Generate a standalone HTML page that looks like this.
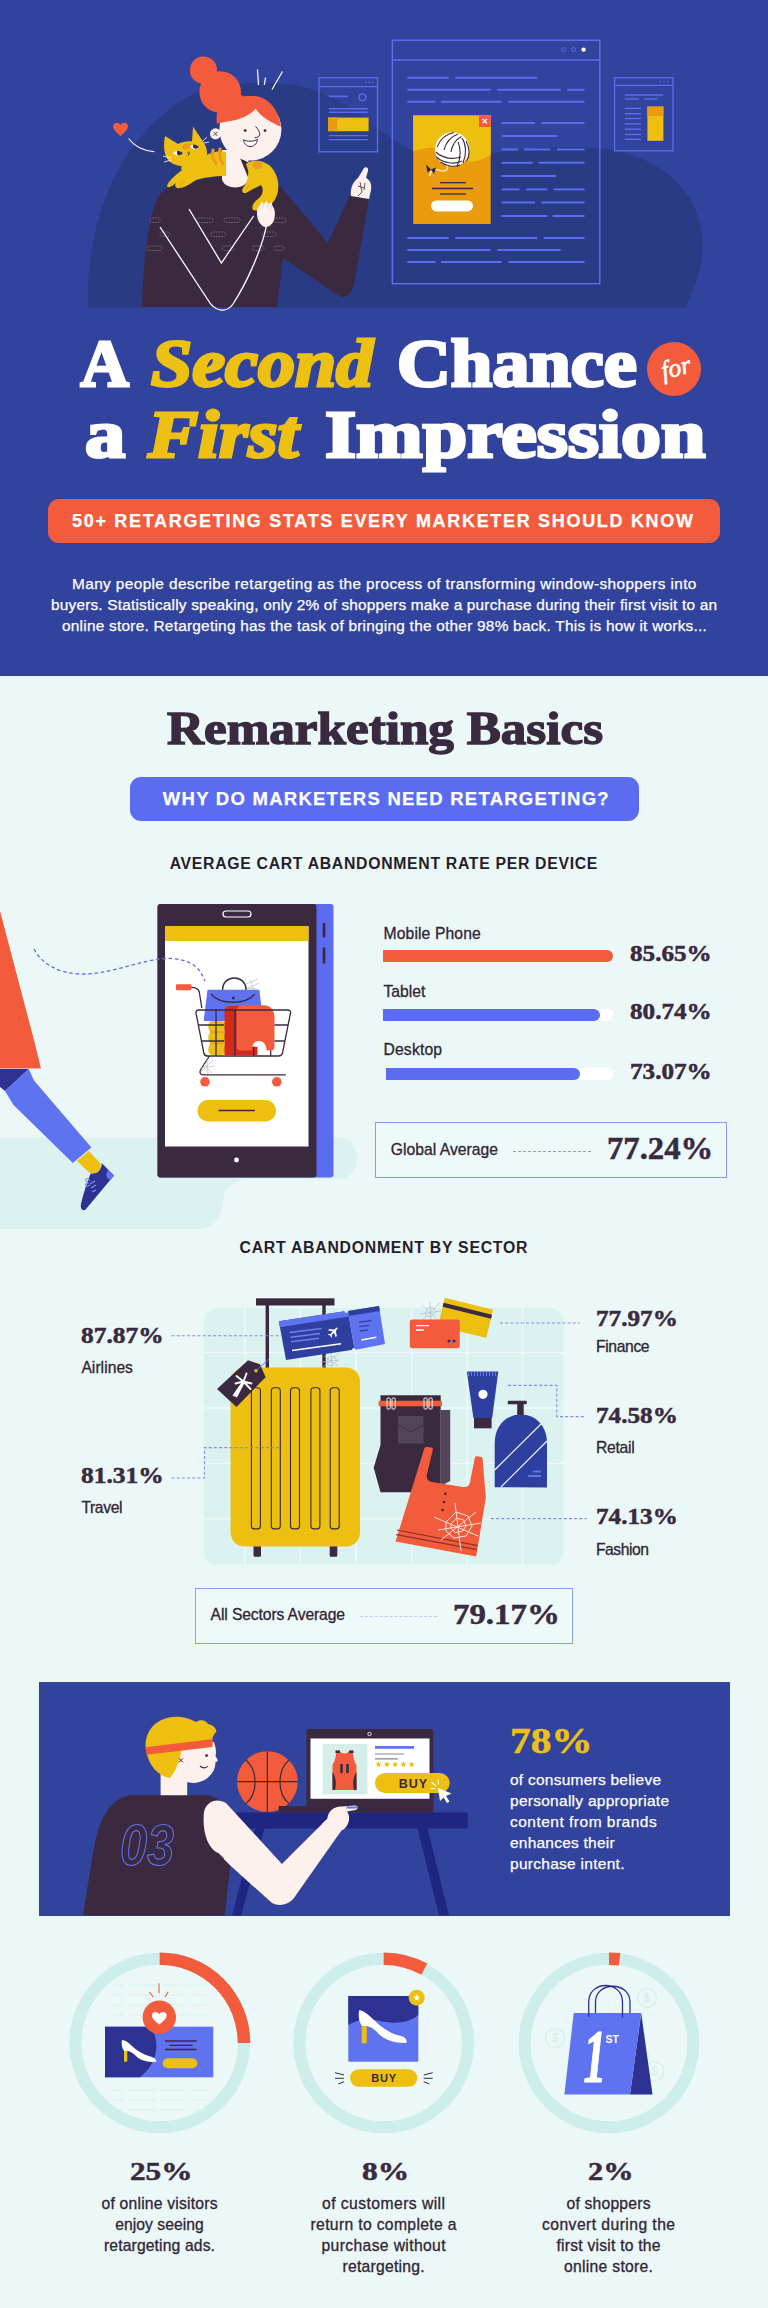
<!DOCTYPE html>
<html lang="en">
<head>
<meta charset="utf-8">
<title>A Second Chance for a First Impression</title>
<style>
*{box-sizing:border-box;margin:0;padding:0}
html,body{width:768px;height:2308px;overflow:hidden}
body{background:#ecf8f8;font-family:"Liberation Sans",sans-serif;color:#3a2a40;position:relative}
.abs{position:absolute}
.serif{font-family:"Liberation Serif",serif;font-weight:bold}
.t{position:absolute;white-space:nowrap;line-height:1;color:#3a2a40}
#hdr{left:0;top:0;width:768px;height:676px;background:#32439d}
.ttl{color:#fff;font-size:67px;transform-origin:0 50%;-webkit-text-stroke:3px currentColor;paint-order:stroke fill}
.ttl i{color:#ecc113}
.pill{position:absolute;border-radius:11px}
svg{position:absolute;overflow:visible}
svg text{font-family:"Liberation Sans",sans-serif}
</style>
</head>
<body>
<div id="hdr" class="abs"></div>
<svg width="768" height="340" viewBox="0 0 768 340" style="left:0;top:0" fill="none">
<!-- blob -->
<path d="M88 307.700C86 262 96 215 114 178C132 142 158 116 182 100C208 85 236 83 268 83C285 83 300 85 312 89.500C335 97 352 108 372 124C388 137 400 144 414 152C440 162 470 156 500 152C540 147 580 146 606 149C660 158 692 185 701 228C707 262 694 290 685 307.700Z" fill="#283b84"/>
<!-- small window left -->
<rect x="319" y="77.8" width="58.5" height="74" stroke="#5b6cf0" stroke-width="1.3" fill="#32439d" fill-opacity=".35"/>
<path d="M319 86.7H377.5" stroke="#5b6cf0" stroke-width="1.3"/>
<g fill="#5b6cf0"><circle cx="366" cy="82.3" r=".9"/><circle cx="369.5" cy="82.3" r=".9"/><circle cx="373" cy="82.3" r=".9"/></g>
<path d="M328.8 96.4H347.8" stroke="#5b6cf0" stroke-width="1.6"/>
<circle cx="362.4" cy="97.3" r="3.4" stroke="#5b6cf0" stroke-width="1.3"/>
<path d="M328.8 108.8H367.7" stroke="#5b6cf0" stroke-width="1.4"/><path d="M328.8 112.3H367.7" stroke="#5b6cf0" stroke-width="1.4"/>
<rect x="328" y="117.600" width="40.600" height="13.600" fill="#ecbf10"/><path d="M328 117.600H340C336 121 337 127 338 131.200H328Z" fill="#eb9c0c"/>
<path d="M328.8 135.6H367.7" stroke="#5b6cf0" stroke-width="1.4"/><path d="M328.8 139.6H367.7" stroke="#5b6cf0" stroke-width="1.4"/>
<!-- small window right -->
<rect x="614.6" y="77.8" width="58.4" height="73" stroke="#5b6cf0" stroke-width="1.3"/>
<path d="M614.6 85.3H673" stroke="#5b6cf0" stroke-width="1.3"/>
<g fill="#5b6cf0"><circle cx="660" cy="81.6" r=".8"/><circle cx="664" cy="81.6" r=".8"/><circle cx="668" cy="81.6" r=".8"/></g>
<path d="M624.8 95.0H663.3" stroke="#5b6cf0" stroke-width="1.4"/><path d="M624.8 99.0H639.0" stroke="#5b6cf0" stroke-width="1.4"/><path d="M644.3 99.0H657.6" stroke="#5b6cf0" stroke-width="1.4"/>
<path d="M624.8 108.4H641.0" stroke="#5b6cf0" stroke-width="1.4"/><path d="M624.8 113.7H641.0" stroke="#5b6cf0" stroke-width="1.4"/><path d="M624.8 118.5H641.0" stroke="#5b6cf0" stroke-width="1.4"/><path d="M624.8 123.8H641.0" stroke="#5b6cf0" stroke-width="1.4"/><path d="M624.8 129.2H641.0" stroke="#5b6cf0" stroke-width="1.4"/><path d="M624.8 134.5H641.0" stroke="#5b6cf0" stroke-width="1.4"/><path d="M624.8 139.3H641.0" stroke="#5b6cf0" stroke-width="1.4"/>
<rect x="647.4" y="106.6" width="16" height="34.2" fill="#ecbf10"/><path d="M647.4 106.6H663.4V115C658 118 652 114 647.4 117Z" fill="#eb9c0c"/>
<!-- main window -->
<rect x="392.400" y="40.300" width="207.400" height="243.400" stroke="#5b6cf0" stroke-width="1.500"/>
<path d="M392.4 60H600" stroke="#5b6cf0" stroke-width="1.5"/>
<circle cx="563.7" cy="49.6" r="2" stroke="#5b6cf0" stroke-width="1"/><circle cx="573.5" cy="49.6" r="2" stroke="#5b6cf0" stroke-width="1"/><circle cx="583.6" cy="49.6" r="2.2" fill="#fff"/>
<path d="M407.4 77.8H448.6" stroke="#5b6cf0" stroke-width="2"/>
<path d="M455.3 77.8H537.1" stroke="#5b6cf0" stroke-width="2"/>
<path d="M407.4 89.8H490.7" stroke="#5b6cf0" stroke-width="2"/>
<path d="M497.3 89.8H560.6" stroke="#5b6cf0" stroke-width="2"/>
<path d="M567.3 89.8H584.5" stroke="#5b6cf0" stroke-width="2"/>
<path d="M407.4 101.7H435.3" stroke="#5b6cf0" stroke-width="2"/>
<path d="M441.1 101.7H501.7" stroke="#5b6cf0" stroke-width="2"/>
<path d="M508.4 101.7H584.5" stroke="#5b6cf0" stroke-width="2"/>
<path d="M501.7 123.0H534.9" stroke="#5b6cf0" stroke-width="2"/>
<path d="M541.6 123.0H584.5" stroke="#5b6cf0" stroke-width="2"/>
<path d="M501.7 136.0H557.1" stroke="#5b6cf0" stroke-width="2"/>
<path d="M501.7 149.5H518.1" stroke="#5b6cf0" stroke-width="2"/>
<path d="M523.9 149.5H550.4" stroke="#5b6cf0" stroke-width="2"/>
<path d="M557.1 149.5H584.5" stroke="#5b6cf0" stroke-width="2"/>
<path d="M501.7 162.8H532.7" stroke="#5b6cf0" stroke-width="2"/>
<path d="M538.5 162.8H584.5" stroke="#5b6cf0" stroke-width="2"/>
<path d="M501.7 176.0H556.2" stroke="#5b6cf0" stroke-width="2"/>
<path d="M501.7 189.4H519.4" stroke="#5b6cf0" stroke-width="2"/>
<path d="M526.1 189.4H547.3" stroke="#5b6cf0" stroke-width="2"/>
<path d="M553.5 189.4H584.5" stroke="#5b6cf0" stroke-width="2"/>
<path d="M501.7 202.6H534.9" stroke="#5b6cf0" stroke-width="2"/>
<path d="M541.6 202.6H584.5" stroke="#5b6cf0" stroke-width="2"/>
<path d="M501.7 216.0H547.3" stroke="#5b6cf0" stroke-width="2"/>
<path d="M552.6 216.0H584.5" stroke="#5b6cf0" stroke-width="2"/>
<path d="M407.4 238.0H448.6" stroke="#5b6cf0" stroke-width="2"/>
<path d="M455.3 238.0H537.1" stroke="#5b6cf0" stroke-width="2"/>
<path d="M543.8 238.0H584.5" stroke="#5b6cf0" stroke-width="2"/>
<path d="M407.4 250.0H490.7" stroke="#5b6cf0" stroke-width="2"/>
<path d="M497.3 250.0H560.6" stroke="#5b6cf0" stroke-width="2"/>
<path d="M407.4 262.0H435.3" stroke="#5b6cf0" stroke-width="2"/>
<path d="M441.1 262.0H501.7" stroke="#5b6cf0" stroke-width="2"/>
<path d="M508.4 262.0H584.5" stroke="#5b6cf0" stroke-width="2"/>
<!-- popup -->
<rect x="413.2" y="115.4" width="77.5" height="108.6" fill="#eb9c0c"/>
<path d="M413.200 115.400H490.700V154.400C484 159 476 162 468 161.500C456 160.500 448 150 436 148C428 147 420 149 413.200 151.600Z" fill="#ecbf10"/>
<rect x="479" y="115.400" width="11.700" height="11.600" fill="#f25c3d"/>
<path d="M482.600 119L487 123.400M487 119L482.600 123.400" stroke="#fff" stroke-width="1.300"/>
<path d="M447 166C449 170 444 172 440 170.500C435 168.500 431 170 429.500 176" stroke="#fbe6b0" stroke-width="1.400"/>
<path d="M426 164.500L431 169.500L427.500 172.500ZM431 169.500L436 167.500L434 174Z" fill="#2a2350"/>
<circle cx="452.300" cy="149.400" r="17.200" fill="#fff"/>
<g stroke="#3b2a3f" stroke-width="1.100"><path d="M454 132.500C446 134 440 140 437 147"/><path d="M458 134C450 137 446 142 444 150"/><path d="M461.500 136.500C455 140 452 145 451 152"/><path d="M436 152C442 158 452 160 461 157"/><path d="M436.500 157C443 163 454 165 462 161"/><path d="M440.500 162C446 166 454 167.500 460 165"/><path d="M462 138C466 144 467 154 463 163"/><path d="M466 141C470 148 470 156 466.500 161"/><path d="M458 142C461 148 461 158 457 166.500"/></g>
<path d="M440.0 182.7H466.0" stroke="#3b2a3f" stroke-width="1.3"/><path d="M432.0 188.5H473.0" stroke="#3b2a3f" stroke-width="1.3"/><path d="M440.0 194.0H466.0" stroke="#3b2a3f" stroke-width="1.3"/>
<rect x="431" y="200.4" width="42" height="11" rx="5.5" fill="#fff"/>
<!-- WOMAN -->
<g id="woman">
<!-- body + right arm -->
<path d="M142 307C143 270 146 232 155 204C159 193 164 189 172 186L228 174L262 178C270 180 276 183 281 187L328 243L350 195L369 199L354 284C352 294 345 299 339 296L283 258L277 307Z" fill="#3b2a3f"/>
<!-- sweater dashes -->
<g stroke="#77677d" stroke-width="1" stroke-dasharray="1.500 1.100" fill="none">
<rect x="150" y="218" width="10" height="4.5" rx="2.2"/><rect x="197" y="218" width="16" height="4.5" rx="2.2"/><rect x="224" y="218" width="16" height="4.5" rx="2.2"/><rect x="274" y="218" width="12" height="4.5" rx="2.2"/>
<rect x="160" y="232" width="10" height="4.5" rx="2.2"/><rect x="211" y="232" width="15" height="4.5" rx="2.2"/><rect x="262" y="232" width="14" height="4.5" rx="2.2"/>
<rect x="147" y="246" width="15" height="4.5" rx="2.2"/><rect x="222" y="246" width="12" height="4.5" rx="2.2"/><rect x="252" y="246" width="12" height="4.5" rx="2.2"/><rect x="274" y="246" width="10" height="4.5" rx="2.2"/>
</g>
<!-- white V lines -->
<path d="M189 209L221.4 263L253.6 216" stroke="#fff" stroke-width="1.3"/>
<path d="M160 227L208 300C214 311 226 314 233 304C246 284 262 250 267 223" stroke="#fff" stroke-width="1.3"/>
<!-- neck -->
<path d="M222 150V178C222 190 248.500 192 248.500 176V150Z" fill="#fdf1ee"/>
<path d="M240 158L262 170L250 182Z" fill="#3b2a3f"/>
<!-- cat rear + tail -->
<path d="M246 164C252 159 262 160 269 165C277 172 280.500 184 277 195C273 206 263 212 253 210C251 206 254 202 258 199C263 195 264 189 261 185C257 187 251 190 247 192.500C243 194.500 241 191 243 188C247 183 249 176 248 170Z" fill="#ecbf10"/>
<ellipse cx="257.500" cy="165" rx="5" ry="4.200" fill="#ee9a1e"/>
<!-- cat body -->
<path d="M167 186C168 182 174 176 182 170C178 166 190 158 204 156C212 152 222 150 226 152V176C214 176 202 178 196 180C190 184 184 188 180 188C176 189 174 186 176 183C172 186 168 189 167 186Z" fill="#ecbf10"/>
<path d="M213 150C212 155 213 160 216 163M220 149C219 154 220 160 223 164" stroke="#ee9a1e" stroke-width="3.200" stroke-linecap="round"/>
<!-- cat head -->
<path d="M165 136L178 144C182 142 188 141 192 141.500L193 126.500L204 143C208 149 208 158 204 162C196 168 178 168 170 162C164 157 163 146 165 136Z" fill="#ecbf10"/>
<path d="M182 146C184 143 190 142 192 145C190 148 186 150 184 150Z" fill="#ee9a1e"/>
<path d="M173 153C176 150 181 150.500 183 153C180 156 176 156.500 173 153Z" fill="#fff"/><path d="M177 151C180 150.500 182 152 183 153C181 155.500 178 156 177 154Z" fill="#3b2a3f"/>
<path d="M190 146C193 144 197 144.500 199 147C196 150 192 150 190 146Z" fill="#fff"/><path d="M193 144.500C196 144.500 198 145.500 199 147C197 149 194 149.500 193 147Z" fill="#3b2a3f"/>
<path d="M187 152L189.500 154L189 151.500M188.500 154L188 156" stroke="#3b2a3f" stroke-width=".7"/>
<path d="M203 141L207 137M204 143L209 142M171 158L163 156M171 160L164 162" stroke="#fff" stroke-width=".8"/>
<path d="M170 186L173 181M179 188L183 182M246 190L249 185" stroke="#d9a40c" stroke-width=".9"/>
<!-- hand on shoulder -->
<path d="M257 214C256.500 210 258 207 260 205L261.500 201.500L264 204.500L266.500 200.500L268.500 204.500L271.500 202L272.500 206C275 209 275.500 214 274 220C272 226 266 229 262 225.500C258.500 222.500 257 218 257 214Z" fill="#fdf1ee"/>
<path d="M264 203L263 208M268 203L267.500 209M271.500 205L271 210" stroke="#e8d3cf" stroke-width=".7"/>
<!-- face -->
<circle cx="250.400" cy="129.600" r="31" fill="#fdf1ee"/>
<circle cx="215.500" cy="133.800" r="5.500" fill="#fdf1ee"/>
<!-- hair -->
<circle cx="203.500" cy="70.200" r="13.600" fill="#f25c3d"/>
<circle cx="220.200" cy="92" r="20.800" fill="#f25c3d"/>
<path d="M217 124C215 112 220 104 228 100C236 96 246 96 254 96C268 97 278 108 281 126.500C272 123 262 118 255.600 108.700C250 116 238 120 228 121.500C224 122 220 123 217 124Z" fill="#f25c3d"/>
<path d="M203 90L236 110L243 96L225 84Z" fill="#f25c3d"/>
<!-- face details -->
<circle cx="245.200" cy="130.600" r="1.400" fill="#3b2a3f"/><circle cx="265" cy="130.600" r="1.400" fill="#3b2a3f"/>
<path d="M255.600 126.500C258 129 260 132 259.800 134.800C259 137 256.500 137.800 254.600 137.500" stroke="#3b2a3f" stroke-width="1"/>
<path d="M243.500 139.800C247 141.800 254 141.800 257.500 139.300C257 144.500 253 146.800 250 146.500C247 146.300 244 144 243.500 139.800Z" fill="#fff" stroke="#3b2a3f" stroke-width="1"/>
<path d="M213.500 131.800L217.500 135.800M217.500 131.800L213.500 135.800" stroke="#3b2a3f" stroke-width=".9"/>
<!-- pointing hand -->
<path d="M351 196C350 188 353 182 358 178L364 168C366 166 369 168 368 171L366 178C370 180 372 184 371 190L369 199Z" fill="#fdf1ee"/>
<path d="M358 186L364 188M360 182L362 192L358 196M365 183L364 190" stroke="#3b2a3f" stroke-width=".8"/>
<!-- accent lines -->
<path d="M257.500 69.500L258.500 85M265.500 77.500L264.300 85M282.500 71.500L272 89.500" stroke="#fff" stroke-width="1.200"/>
<path d="M128.7 138.5C134 146 144 151 154.5 151.7" stroke="#fff" stroke-width="1.1"/>
<path d="M120.500 136C115.500 132 112.500 128.500 113.200 125.500C114 122.300 118.200 121.800 120.500 125C122.800 121.800 127 122.300 127.800 125.500C128.500 128.500 125.500 132 120.500 136Z" fill="#f25c3d"/>
</g>
</svg>

<div class="t serif ttl" style="left:80.5px;top:329.5px">A</div>
<div class="t serif ttl" style="left:151px;top:329.5px;transform:scaleX(1.105)"><i>Second</i></div>
<div class="t serif ttl" style="left:397px;top:329.5px;transform:scaleX(1.111)">Chance</div>
<div class="t serif ttl" style="left:85px;top:401px;transform:scaleX(1.2)">a</div>
<div class="t serif ttl" style="left:148px;top:401px;transform:scaleX(1.121)"><i>First</i></div>
<div class="t serif ttl" style="left:324.5px;top:401px;transform:scaleX(1.193)">Impression</div>
<div class="abs" style="left:647px;top:342px;width:54px;height:54px;border-radius:50%;background:#f25c3d"></div>
<div class="t" id="fort" style="left:660.5px;top:354.5px;color:#fff;font-family:'Liberation Serif',serif;font-style:italic;font-size:25.5px;-webkit-text-stroke:.6px #fff;transform:rotate(-14deg)">for</div>
<div class="pill" style="left:48px;top:499px;width:672px;height:44px;background:#f25c3d"></div>

<div class="pill" style="left:129.5px;top:777.3px;width:509.500px;height:44.200px;background:#5b6cf0"></div>
<div class="abs" style="left:383px;top:950px;width:230px;height:12px;border-radius:0 6px 6px 0;background:#f25c3d"></div>
<div class="abs" style="left:383px;top:1008.5px;width:230px;height:12px;border-radius:0 6px 6px 0;background:#fff"></div>
<div class="abs" style="left:383px;top:1008.5px;width:217px;height:12px;border-radius:0 6px 6px 0;background:#5b6cf0"></div>
<div class="abs" style="left:385.5px;top:1067.5px;width:227.5px;height:12px;border-radius:0 6px 6px 0;background:#fff"></div>
<div class="abs" style="left:385.5px;top:1067.5px;width:194px;height:12px;border-radius:0 6px 6px 0;background:#5b6cf0"></div>
<div class="abs" style="left:374.5px;top:1122px;width:352px;height:56px;border:1.7px solid #8d98f3;background:#eef9f9"></div>
<div class="abs" style="left:513px;top:1150.5px;width:78px;border-top:1.3px dashed #8d98f3"></div>
<div class="abs" style="left:194.5px;top:1587.5px;width:378.5px;height:56px;border:1.7px solid #8d98f3;background:#eef9f9"></div>
<div class="abs" style="left:360px;top:1616px;width:77px;border-top:1px dashed #c3c9f6"></div>
<div class="abs" style="left:39px;top:1682px;width:690.5px;height:234px;background:#32439d"></div>

<svg width="400" height="360" viewBox="0 880 400 360" style="left:0;top:880px" fill="none">
<!-- ground -->
<path d="M0 1137.500H337C350 1137.500 357 1146 357 1158C357 1171 350 1179 337 1179H250C234 1179 224 1188 223 1202C222 1218 214 1229 196 1229H0Z" fill="#dcf2f1"/>
<!-- person -->
<path d="M0 1069H28.8L5 1091L0 1087Z" fill="#2c3192"/>
<path d="M28.8 1069L34 1080.6L91.4 1147.5L72.8 1163L13.5 1105L5 1091Z" fill="#5f72f0"/>
<path d="M0 911L34 1040L41 1068.4H0Z" fill="#f25c3d"/>
<path d="M77 1161L89 1151L100 1163C102 1167 100 1171 96.5 1173H89.7Z" fill="#ecbf10"/>
<path d="M101.600 1163L114 1175.4L86 1209C83 1212 80 1209 81 1204C83 1194 87 1183 90.5 1173.7L96.5 1173C100 1171 102 1167 101.600 1163Z" fill="#2c3192"/>
<path d="M114 1175.4L110 1180C106 1178 105 1174 108 1170Z" fill="#5f72f0"/>
<path d="M90 1181C86 1176 84 1180 88 1183C84 1184 85 1188 90 1185M90 1184L95 1181M91 1188L96 1185M92 1192L96 1190" stroke="#8b96f2" stroke-width="1.1"/>
<!-- phone -->
<rect x="157.5" y="904" width="176" height="273.5" rx="3" fill="#5b6cf0"/>
<rect x="157.5" y="904" width="159" height="273.5" rx="3" fill="#3b2a3f"/>
<path d="M324 924V936.5M324 948.5V962.5" stroke="#3b2a3f" stroke-width="2.6" stroke-linecap="round"/>
<rect x="165" y="926" width="143.5" height="220.5" fill="#fff"/>
<rect x="165" y="926" width="143.5" height="15" fill="#ecbf10"/>
<rect x="223" y="911" width="28" height="6" rx="3" stroke="#fff" stroke-width="1.2"/>
<circle cx="236.5" cy="1160" r="2.4" fill="#fff"/>
<!-- dotted path -->
<path d="M34 949C42 964 58 973 80 974C112 975 146 957 172 958.5C192 960 200 968 205 981" stroke="#5b6cf0" stroke-width="1.300" stroke-dasharray="3.500 2.800"/>
<!-- cart contents -->
<path d="M246 984L258 979M247 988L257 989M250 980L255 992M244 990L259 983" stroke="#b9c0c8" stroke-width=".7"/>
<path d="M207.500 989.800H259.400L263 1021H203.700Z" fill="#5f72f0"/>
<path d="M211 994C220 1005 246 1005 254.700 994" stroke="#3b2a3f" stroke-width="1.300"/>
<circle cx="233.300" cy="998" r="1.500" fill="#3b2a3f"/>
<path d="M222.600 989.800C222.600 974 246 974 246 989.800" stroke="#3b2a3f" stroke-width="1.500"/>
<path d="M212 1021H222C227 1021 227 1032 222 1032C227 1032 227 1043.500 222 1043.500C227 1043.500 227 1055 222 1055H212C207 1055 207 1043.500 212 1043.500C207 1043.500 207 1032 212 1032C207 1032 207 1021 212 1021Z" fill="#ecbf10"/>
<path d="M210 1032H224M210 1043.500H224" stroke="#e5a812" stroke-width="2"/>
<path d="M224.500 1012C224.500 1008 227 1006 231 1006H240V1046.800H257.500V1055H224.500Z" fill="#d42a1a"/>
<path d="M236.700 1011C236.700 1007.500 239 1005.300 243 1005.300H264C270 1005.300 274.500 1010 274.500 1017V1047C274.500 1050 272 1051 270 1050.600H266.500C266.500 1043 262 1040.500 258 1041C254 1041.500 252 1045 252 1050.600H240C238 1050.600 236.700 1049 236.700 1047Z" fill="#f25c3d"/>
<!-- cart -->
<g stroke="#3b2a3f" stroke-width="1.300">
<path d="M191 987.400C196 987.400 198.500 988.500 199.300 992L201.800 1008"/>
<path d="M196 1013C195.600 1011 197 1010 199 1010H287.500C289.500 1010 291 1011 290.500 1013L282.500 1053C282 1055 280.500 1056 278.500 1056H207.500C205.500 1056 204.200 1055 203.800 1053Z"/>
<path d="M198.500 1025H224M274.500 1025H288M201.500 1041H224M274.500 1041H284.500M216 1010V1056M234.900 1010V1056M253.700 1046.800V1056M270.700 1050.600V1056"/>
<path d="M209.400 1056L200.500 1070C199.500 1072 200 1074.800 203 1074.800H285.800"/>
</g>
<rect x="176" y="984.200" width="15.400" height="6" rx="1" fill="#f25c3d"/>
<circle cx="205" cy="1081.800" r="4.800" fill="#f25c3d"/><circle cx="276.800" cy="1081.800" r="4.800" fill="#f25c3d"/>
<path d="M201 1072L213 1060M203 1063L212 1073M207 1059L208 1074M200 1068L215 1066" stroke="#b9c0c8" stroke-width=".7"/>
<!-- button -->
<rect x="197.5" y="1100" width="78.5" height="21.500" rx="10.7" fill="#ecbf10"/>
<path d="M218.5 1110.5H255" stroke="#3b2a3f" stroke-width="1.3"/>
</svg>

<svg width="768" height="300" viewBox="0 1290 768 300" style="left:0;top:1290px" fill="none">
<rect x="204.2" y="1308" width="359.1" height="256.4" rx="12" fill="#dcf2f1"/>
<g stroke="#f1fafa" stroke-width="1.300"><path d="M244.9 1308V1564.4"/><path d="M300.4 1308V1564.4"/><path d="M356.0 1308V1564.4"/><path d="M411.6 1308V1564.4"/><path d="M467.2 1308V1564.4"/><path d="M522.7 1308V1564.4"/><path d="M204.2 1352.6H563.3"/><path d="M204.2 1408.0H563.3"/><path d="M204.2 1463.4H563.3"/><path d="M204.2 1518.9H563.3"/></g>
<!-- suitcase -->
<rect x="256" y="1298.300" width="78.500" height="7.200" fill="#3b2a3f"/>
<rect x="265.600" y="1305" width="3.400" height="64" fill="#3b2a3f"/><rect x="322.300" y="1305" width="3.400" height="64" fill="#3b2a3f"/>
<rect x="253.5" y="1544" width="7.5" height="12.8" rx="1.5" fill="#3b2a3f"/><rect x="329.7" y="1544" width="7.6" height="12.8" rx="1.5" fill="#3b2a3f"/>
<rect x="230.600" y="1367.4" width="129.4" height="179.2" rx="14" fill="#ecbf10"/>
<rect x="251.400" y="1387.700" width="9" height="141.2" rx="3" stroke="#3b2a3f" stroke-width="1.1"/><rect x="271.300" y="1387.700" width="9" height="141.2" rx="3" stroke="#3b2a3f" stroke-width="1.1"/><rect x="290.5" y="1387.7" width="9" height="141.2" rx="3" stroke="#3b2a3f" stroke-width="1.1"/><rect x="310.9" y="1387.7" width="9" height="141.2" rx="3" stroke="#3b2a3f" stroke-width="1.1"/><rect x="330.2" y="1387.7" width="9" height="141.2" rx="3" stroke="#3b2a3f" stroke-width="1.1"/>
<!-- web near ticket -->
<g stroke="#b4bcc6" stroke-width=".7"><path d="M322 1368L340 1352M324 1356L338 1366M331 1352L332 1368M323 1362L339 1360"/><path d="M326 1362L329 1357L334 1356.500L337 1361L333 1365L328 1365.500Z"/></g>
<!-- ticket -->
<path d="M278.800 1321.200L348 1310.800L354.600 1349.600L286 1360Z" fill="#2f3fa0"/>
<path d="M278.800 1321.200L348 1310.800L349 1316.600L280 1327.300Z" fill="#5f72f0"/>
<path d="M348 1311L379 1306L385 1344L354.600 1350Z" fill="#5f72f0"/>
<path d="M348 1311L379 1306L379.800 1311L348.900 1316Z" fill="#2f3fa0"/>
<circle cx="346.300" cy="1311.300" r="1.700" fill="#dcf2f1"/><circle cx="353.800" cy="1349.800" r="1.800" fill="#dcf2f1"/>
<g stroke="#6f80ee" stroke-width="1.500"><path d="M289.500 1332.600L321.600 1328.500M290.500 1337.200L320 1333.400M291.200 1341.800L319 1338.200"/></g>
<path d="M292 1350.500L341 1343.700" stroke="#fff" stroke-width="1.500"/>
<g stroke="#2f3fa0" stroke-width="1.300"><path d="M358.900 1322.100L371.600 1320.700M359.200 1326.700L369 1325.400M359.700 1331L368.200 1329.900"/></g>
<path d="M361.400 1339.900L376.300 1337.300" stroke="#fff" stroke-width="1.500"/>
<g transform="translate(334 1331.400) rotate(-48)" fill="#fff"><path d="M-5.500 -.9H3.800C5.600 -.9 5.600 .9 3.800 .9H-5.500Z"/><path d="M-.5 0L-3.200 -5.200H-1.500L2.300 0L-1.500 5.200H-3.200Z"/><path d="M-5.600 0L-6.600 -2.300H-5.500L-4 0L-5.500 2.300H-6.600Z"/></g>
<!-- tag -->
<path d="M217 1389L248 1360.300L260 1364.200L265.600 1377.200L236.500 1407Z" fill="#3b2a3f"/>
<path d="M256 1370.700L269 1359" stroke="#5f72f0" stroke-width="1"/><circle cx="256" cy="1370.700" r="1.700" fill="#ecbf10"/>
<path d="M232.500 1395.500L237 1397.500L245 1382L242.500 1381Z" fill="#fff"/><g stroke="#fff" stroke-width="1.900" stroke-linecap="round"><path d="M243.500 1381.500L236.500 1376M243.500 1381.500L235.500 1383.500M243.500 1381.500L251.500 1383.500M243.500 1381.500L250.500 1389M243.500 1381.500L246.500 1373.500"/></g>
<!-- cards -->
<g stroke="#b4bcc6" stroke-width=".7"><path d="M420 1322L440 1303M423 1306L438 1320M430 1302L431 1322M420 1314L441 1311"/><path d="M425 1313L428 1308L433 1307.500L436 1312L432 1316L427 1316.500Z"/></g>
<path d="M444.800 1297.700L493.200 1309.700L486.300 1337.900L438 1326Z" fill="#ecbf10"/>
<path d="M443.600 1302.800L492 1314.800L491 1318.800L442.600 1306.800Z" fill="#3b2a3f"/>
<rect x="409.800" y="1319.500" width="50" height="28.700" rx="2.500" fill="#f25c3d"/>
<path d="M416 1325.700H429M416 1330H424" stroke="#fff" stroke-width="1.300"/>
<circle cx="449" cy="1341" r="1.600" fill="#2c3192"/><circle cx="454" cy="1341" r="1.600" fill="#2c3192"/>
<!-- jeans -->
<path d="M440.700 1410H450.200V1481L440.700 1486Z" fill="#544459"/>
<path d="M380.500 1395.300H440.700V1492.300H380.500L373.700 1467.700L380.500 1445Z" fill="#3b2a3f"/>
<rect x="378.600" y="1400.700" width="63.400" height="5.500" rx="1" fill="#f25c3d"/>
<rect x="387" y="1398" width="3.200" height="11" rx=".8" stroke="#fff" stroke-width=".9"/><rect x="392" y="1398" width="3.200" height="11" rx=".8" stroke="#fff" stroke-width=".9"/><rect x="424" y="1398" width="3.200" height="11" rx=".8" stroke="#fff" stroke-width=".9"/><rect x="429" y="1398" width="3.200" height="11" rx=".8" stroke="#fff" stroke-width=".9"/>
<path d="M398 1416H423.600V1443.500H398Z" fill="#544459"/><path d="M398 1425L410.800 1432L423.600 1425" stroke="#3b2a3f" stroke-width=".9"/>
<!-- top -->
<path d="M395.500 1541.600L424.300 1448.600C424.800 1447.400 425.800 1447 427 1447L431.500 1447.400C432.500 1447.500 433 1448.300 432.800 1449.500L427 1474C426 1479 428 1481.500 432 1482L463 1487C467 1487.500 469.500 1486 470 1482L474.800 1458C475 1456.500 476 1456 477.500 1456.200L481 1457C482.200 1457.300 482.600 1458.200 482.700 1459.500L485.800 1497.800L476.200 1556.600Z" fill="#f25c3d"/>
<path d="M397 1530L477.600 1545.600M396.300 1534.700L476.900 1549.700" stroke="#8c3226" stroke-width="1.200"/>
<circle cx="445.300" cy="1493.700" r="1.300" fill="#3b2a3f"/><circle cx="444" cy="1502" r="1.300" fill="#3b2a3f"/><circle cx="442.600" cy="1510" r="1.300" fill="#3b2a3f"/>
<g stroke="#fdeee9" stroke-width=".9"><path d="M434 1517L478 1536M441 1540L476 1512M455 1503L461 1551M438 1530L481 1523"/><path d="M446 1522L456 1512L468 1516L472 1526L466 1536L454 1538L446 1531Z"/><path d="M451 1524L456.500 1518L463.500 1520L466 1526L462.500 1531L455.500 1532.500L451 1528.500Z"/></g>
<!-- tube -->
<path d="M466.800 1371.400H498.300L492.200 1418H473.400Z" fill="#2f3fa0"/>
<path d="M468.500 1372V1376M471.500 1372V1376M474.500 1372V1376M477.500 1372V1376M480.500 1372V1376M483.500 1372V1376M486.500 1372V1376M489.500 1372V1376M492.500 1372V1376M495.500 1372V1376" stroke="#6f80ee" stroke-width=".9"/>
<rect x="474" y="1418" width="17.600" height="10.300" fill="#3b2a3f"/>
<circle cx="483" cy="1394.300" r="4.600" fill="#fff"/>
<!-- bottle -->
<rect x="507.700" y="1400.700" width="19.100" height="3.600" rx="1" fill="#3b2a3f"/><rect x="517.200" y="1404" width="6.500" height="12" fill="#3b2a3f"/>
<path d="M494.700 1487.200V1443C494.700 1426 506 1414.400 520.800 1414.400C536 1414.400 547 1426 547 1443V1487.400Z" fill="#2f3fa0"/>
<path d="M494.700 1470L541 1424M501 1487L547 1441" stroke="#fff" stroke-width="1.100"/>
<path d="M528 1476H541M533 1471.500H541" stroke="#5f72f0" stroke-width="2.200"/>
<!-- connectors -->
<g stroke="#7f8cf0" stroke-width="1.100" stroke-dasharray="3 2.200">
<path d="M171.500 1335.800H281"/>
<path d="M171.500 1478H204.500V1447.600H282"/>
<path d="M500 1323H580"/>
<path d="M508 1385.400H556.800V1416.600H583.700"/>
<path d="M491 1518.600H586.600"/>
</g>
</svg>

<svg width="768" height="240" viewBox="0 1680 768 240" style="left:0;top:1680px" fill="none">
<!-- table -->
<path d="M255.300 1828L231.900 1915.600H241.300L264.500 1828Z" fill="#1f2682"/><path d="M417.500 1828H427.500L449 1915.600H439Z" fill="#1f2682"/>
<rect x="236" y="1812.500" width="231.600" height="16" fill="#1f2682"/>
<!-- basketball -->
<circle cx="267.400" cy="1781.700" r="30.400" fill="#f25c3d"/>
<g stroke="#3b2a3f" stroke-width="1.200"><path d="M267.400 1751.300V1812.100M237 1781.700H297.800"/><path d="M246 1760C258 1770 258 1794 246 1803.500M289 1760C277 1770 277 1794 289 1803.500"/></g>
<!-- laptop -->
<rect x="306.400" y="1729" width="127" height="80" rx="2" fill="#3b2a3f"/>
<rect x="310.500" y="1738.500" width="119" height="60.300" fill="#fff"/>
<rect x="278.600" y="1806" width="154.800" height="6.600" fill="#3b2a3f"/>
<circle cx="369.500" cy="1734" r="1.700" stroke="#fff" stroke-width=".8"/>
<rect x="322.500" y="1744" width="45" height="50.300" fill="#d5eeea"/>
<path d="M336 1750.500H339.500C341 1754.500 348 1754.500 349.500 1750.500H353C353 1757 354 1761 356.500 1765V1790H332.500V1765C335 1761 336 1757 336 1750.500Z" fill="#f25c3d"/>
<path d="M335.500 1750.500H339.800V1753H335.500ZM349.200 1750.500H353.500V1753H349.200Z" fill="#3b2a3f"/>
<path d="M332.500 1772C336 1777 336.500 1784 335 1790H332.500ZM356.500 1772C353 1777 352.500 1784 354 1790H356.500Z" fill="#3b2a3f"/>
<path d="M341.500 1765V1772M347.500 1765V1772" stroke="#3b2a3f" stroke-width="2.600" stroke-linecap="round"/>
<path d="M375 1747.300H414" stroke="#5f72f0" stroke-width="2.800"/>
<path d="M375 1754H404M375 1758.800H398" stroke="#8a8290" stroke-width="1.200"/>
<g fill="#ecbf10"><path d="M378.5 1761.3L379.3 1763.3L381.5 1763.5L379.9 1764.9L380.4 1767.1L378.5 1765.9L376.6 1767.1L377.1 1764.9L375.5 1763.5L377.7 1763.3Z"/><path d="M386.8 1761.3L387.6 1763.3L389.8 1763.5L388.2 1764.9L388.7 1767.1L386.8 1765.9L384.9 1767.1L385.4 1764.9L383.8 1763.5L386.0 1763.3Z"/><path d="M395.1 1761.3L395.9 1763.3L398.1 1763.5L396.5 1764.9L397.0 1767.1L395.1 1765.9L393.2 1767.1L393.7 1764.9L392.1 1763.5L394.3 1763.3Z"/><path d="M403.4 1761.3L404.2 1763.3L406.4 1763.5L404.8 1764.9L405.3 1767.1L403.4 1765.9L401.5 1767.1L402.0 1764.9L400.4 1763.5L402.6 1763.3Z"/><path d="M411.7 1761.3L412.5 1763.3L414.7 1763.5L413.1 1764.9L413.6 1767.1L411.7 1765.9L409.8 1767.1L410.3 1764.9L408.7 1763.5L410.9 1763.3Z"/></g>
<rect x="375" y="1773" width="74.700" height="20" rx="10" fill="#ecbf10"/>
<text x="413.500" y="1787.700" text-anchor="middle" font-size="12.500" font-weight="bold" letter-spacing="1" fill="#3b2a3f">BUY</text>
<path d="M431.500 1782L436 1786M438 1779.500L438.500 1784.500M430.500 1788.500H435" stroke="#fff" stroke-width="1.200"/>
<path d="M438 1788L451.500 1793.500L446 1796L449.500 1801.500L447 1803L443.500 1797.500L440 1801Z" fill="#fff"/>
<!-- man -->
<path d="M160.600 1770H187.200V1800H160.600Z" fill="#fdf1ee"/>
<path d="M172 1747L214 1742C216 1748 216.500 1753 215.500 1756L217.500 1759.500C218 1761 217 1762 215.500 1762C215.500 1772 208 1781 196 1782.800C186 1783.500 178 1780 174 1772Z" fill="#fdf1ee"/>
<path d="M186 1779L187.200 1786L180 1784Z" fill="#3b2a3f" opacity=".0"/>
<path d="M146.500 1752C143 1738 150 1724 164 1719C176 1714 190 1718 196 1722C200 1719 206 1720 208 1724C212 1724 216 1728 216.500 1731.500C214 1734 212 1738 212.200 1740L182 1746C181 1756 178 1768 170 1778C158 1776 149 1766 146.500 1752Z" fill="#ecbf10"/>
<path d="M145.500 1747.200L213 1739L212.400 1746.900L146.500 1754.700Z" fill="#f25c3d"/>
<path d="M179 1758.300L183 1762.300M183 1758.300L179 1762.300" stroke="#3b2a3f" stroke-width="1"/>
<circle cx="206.600" cy="1755.600" r="1.400" fill="#3b2a3f"/>
<path d="M200 1766C202.500 1768.500 206 1768.500 208 1766" stroke="#3b2a3f" stroke-width="1.100"/>
<path d="M83 1915.600L91.500 1862C95 1838 100 1820 108 1810C114 1801 122 1796 131 1795.300H204C212 1795.300 218 1798 221 1803L230.300 1865.600L224.800 1915.600Z" fill="#3b2a3f"/>
<path d="M204 1812C206 1802 216 1797 226 1803L281.900 1864L327.300 1818.800L341.600 1830.300L296 1895C290 1905 280 1907 272 1903L230.300 1865.600L217.800 1853C207 1848 202 1830 204 1812Z" fill="#fdf1ee"/>
<path d="M217.800 1853L224 1858.500" stroke="#3b2a3f" stroke-width=".9"/>
<path d="M322 1824L327.300 1818.800C328 1811 334 1806 342 1806.500L355 1805.500C358.500 1805.500 358.500 1809.500 355.500 1810L347 1811.500C350 1815 350 1822 346 1827C344.500 1829 343 1830 341.600 1830.300L337 1836Z" fill="#fdf1ee"/>
<path d="M346.500 1807.500H358" stroke="#5f72f0" stroke-width="2"/>
<text x="120" y="1865" font-size="58" font-style="italic" font-weight="bold" fill="none" stroke="#5f72f0" stroke-width="1.200" transform="translate(120 1865) scale(.84 1) translate(-120 -1865)">03</text>
</svg>

<svg width="768" height="200" viewBox="0 1945 768 200" style="left:0;top:1945px" fill="none">
<circle cx="159.7" cy="2043" r="84.3" stroke="#cdeeea" stroke-width="12"/><path d="M159.70 1958.70A84.3 84.3 0 0 1 244.00 2043.00" stroke="#f25c3d" stroke-width="12.600"/><circle cx="383.7" cy="2043" r="84.3" stroke="#cdeeea" stroke-width="12"/><path d="M383.70 1958.70A84.3 84.3 0 0 1 424.31 1969.13" stroke="#f25c3d" stroke-width="12.600"/><circle cx="609" cy="2043" r="84.3" stroke="#cdeeea" stroke-width="12"/><path d="M609.00 1958.70A84.3 84.3 0 0 1 619.57 1959.36" stroke="#f25c3d" stroke-width="12.600"/>
<!-- c1 -->
<path d="M111.7 1985H123.3M128.3 1985H156.7M161.7 1985H186.7M191.7 1985H206.7M111.7 1995H123.3M128.3 1995H156.7M161.7 1995H186.7M191.7 1995H206.7M111.7 2005H123.3M128.3 2005H156.7M161.7 2005H186.7M191.7 2005H206.7M111.7 2015H123.3M128.3 2015H156.7M161.7 2015H186.7M191.7 2015H206.7M111.7 2090H123.3M128.3 2090H156.7M161.7 2090H186.7M191.7 2090H206.7M111.7 2100H123.3M128.3 2100H156.7M161.7 2100H186.7M191.7 2100H206.7M111.7 2110H123.3M128.3 2110H156.7M161.7 2110H186.7M191.7 2110H206.7" stroke="#dcf2f1" stroke-width="1.300"/>
<rect x="105" y="2026.700" width="108.300" height="50.600" fill="#5f72f0"/>
<path d="M105 2026.700H150C156 2034 158 2046 155 2056C152 2066 146 2072 140 2077.300H105Z" fill="#2c3192"/>
<path d="M124 2050H127.300V2061.700H124Z" fill="#ecbf10"/>
<path d="M122 2040C121 2044 122 2048 124 2051C128 2050 132 2052 136 2056C140 2060 146 2062 156 2062C157 2060 155 2058 152 2057C144 2055 136 2050 132 2046C128 2042 125 2040 122 2040Z" fill="#fff"/>
<path d="M165 2041H196.700M169.300 2045.300H192.700M165 2049.500H196.700" stroke="#3b2a3f" stroke-width="1.300"/>
<rect x="162.700" y="2058.300" width="34.600" height="10" rx="5" fill="#ecbf10"/>
<circle cx="159.300" cy="2017.300" r="16.700" fill="#f25c3d"/>
<path d="M159.300 2024.500C154 2020.500 151.500 2017.500 152 2014.500C152.700 2011.500 157 2011 159.300 2014.200C161.600 2011 165.900 2011.500 166.600 2014.500C167.100 2017.500 164.600 2020.500 159.300 2024.500Z" fill="#fff"/>
<path d="M159 1983.300V1993.300M149.300 1991.700L153.300 1997.300M168.300 1991.700L165 1997.300" stroke="#f25c3d" stroke-width="1.100"/>
<!-- c2 -->
<rect x="348.300" y="1996" width="70" height="65.700" fill="#5f72f0"/>
<path d="M348.300 1996H418.300V2015C408 2024 392 2024 378 2020.500C366 2018 356 2020 348.300 2025Z" fill="#2c3192"/>
<path d="M361.700 2025H366.700V2043.300H361.700Z" fill="#ecbf10"/>
<path d="M359.300 2010C358 2016 359 2022 362 2026C367 2025 372 2027 377 2032C382 2038 390 2043 406 2043C408 2040 405 2037 401 2036C390 2034 380 2026 374 2020C369 2015 364 2011 359.300 2010Z" fill="#fff"/>
<circle cx="416.700" cy="1997.700" r="8" fill="#ecbf10"/><g fill="#fff"><path d="M416.7 1994.3L417.7 1996.6L420.1 1996.8L418.2 1998.4L418.8 2000.8L416.7 1999.5L414.6 2000.8L415.2 1998.4L413.3 1996.8L415.7 1996.6Z"/></g>
<rect x="350" y="2069.300" width="67.300" height="17.400" rx="8.700" fill="#ecbf10"/>
<text x="384" y="2082" text-anchor="middle" font-size="11" font-weight="bold" letter-spacing=".8" fill="#3b2a3f">BUY</text>
<path d="M335 2072.700L344 2075M335 2078.300H344M338.300 2084L344 2081.700M432.700 2072.700L423.700 2075M432.700 2078.300H423.700M429.400 2084L423.700 2081.700" stroke="#3b2a3f" stroke-width="1"/>
<!-- c3 -->
<circle cx="646.9" cy="1998" r="9.500" stroke="#d3efec" stroke-width="1.200"/><text x="646.9" y="2002.3" text-anchor="middle" font-size="12" fill="#d3efec">$</text><circle cx="555" cy="2038" r="9.500" stroke="#d3efec" stroke-width="1.200"/><text x="555" y="2042.3" text-anchor="middle" font-size="12" fill="#d3efec">$</text><circle cx="654.4" cy="2071" r="9.500" stroke="#d3efec" stroke-width="1.200"/><text x="654.4" y="2075.3" text-anchor="middle" font-size="12" fill="#d3efec">$</text>
<path d="M641.200 2013L652.500 2094.500H630Z" fill="#2c3192"/>
<path d="M573.700 2013H641.200L630 2094.500H564.400Z" fill="#5f72f0"/>
<path d="M588.700 2017V2002C588.700 1980 622.500 1980 622.500 2002V2017.500M595.500 2013V2002C595.500 1981 630 1981 630 2002V2013" stroke="#2c3192" stroke-width="1.300"/>
<text x="583.500" y="2081.700" font-size="76" font-weight="bold" font-style="italic" fill="#fff" stroke="#fff" stroke-width="1.200" transform="translate(583.500 2081.700) scale(.6 1) translate(-583.500 -2081.700)" style="font-family:'Liberation Serif',serif">1</text>
<text x="605.600" y="2043.200" font-size="10.500" font-weight="bold" fill="#fff">ST</text>
</svg>

<!-- TEXT -->
<div class="t" id="i1" style="left:72.0px;top:575.7px;font-family:'Liberation Sans',sans-serif;font-size:15.4px;letter-spacing:0.38px;color:#fff;-webkit-text-stroke:.25px #fff;">Many people describe retargeting as the process of transforming window-shoppers into</div>
<div class="t" id="i2" style="left:51.0px;top:596.9px;font-family:'Liberation Sans',sans-serif;font-size:15.4px;letter-spacing:0.19px;color:#fff;-webkit-text-stroke:.25px #fff;">buyers. Statistically speaking, only 2% of shoppers make a purchase during their first visit to an</div>
<div class="t" id="i3" style="left:62.0px;top:618.3px;font-family:'Liberation Sans',sans-serif;font-size:15.4px;letter-spacing:0.24px;color:#fff;-webkit-text-stroke:.25px #fff;">online store. Retargeting has the task of bringing the other 98% back. This is how it works...</div>
<div class="t" id="p1" style="left:72.0px;top:512.4px;font-family:'Liberation Sans',sans-serif;font-size:18px;letter-spacing:1.69px;color:#fff;-webkit-text-stroke:.25px #fff;font-weight:bold;">50+ RETARGETING STATS EVERY MARKETER SHOULD KNOW</div>
<div class="t" id="p2" style="left:162.8px;top:790.1px;font-family:'Liberation Sans',sans-serif;font-size:18.5px;letter-spacing:1.26px;color:#fff;-webkit-text-stroke:.25px #fff;font-weight:bold;">WHY DO MARKETERS NEED RETARGETING?</div>
<div class="t" id="s1" style="left:169.7px;top:855.9px;font-family:'Liberation Sans',sans-serif;font-size:15.8px;letter-spacing:0.69px;font-weight:bold;color:#261d2c;">AVERAGE CART ABANDONMENT RATE PER DEVICE</div>
<div class="t" id="s2" style="left:239.5px;top:1240.3px;font-family:'Liberation Sans',sans-serif;font-size:15.8px;letter-spacing:0.75px;font-weight:bold;color:#261d2c;">CART ABANDONMENT BY SECTOR</div>
<div class="t" id="l1" style="left:383.5px;top:925.7px;font-family:'Liberation Sans',sans-serif;font-size:15.7px;letter-spacing:0.12px;color:#2f2535;-webkit-text-stroke:.3px #2f2535;">Mobile Phone</div>
<div class="t" id="l2" style="left:383.5px;top:983.7px;font-family:'Liberation Sans',sans-serif;font-size:15.7px;letter-spacing:0.00px;color:#2f2535;-webkit-text-stroke:.3px #2f2535;">Tablet</div>
<div class="t" id="l3" style="left:383.5px;top:1041.6px;font-family:'Liberation Sans',sans-serif;font-size:15.7px;letter-spacing:0.16px;color:#2f2535;-webkit-text-stroke:.3px #2f2535;">Desktop</div>
<div class="t" id="l4" style="left:390.8px;top:1141.7px;font-family:'Liberation Sans',sans-serif;font-size:15.7px;letter-spacing:0.02px;color:#2f2535;-webkit-text-stroke:.3px #2f2535;">Global Average</div>
<div class="t" id="b1" style="left:81.4px;top:1360.0px;font-family:'Liberation Sans',sans-serif;font-size:15.7px;letter-spacing:0.02px;color:#2f2535;-webkit-text-stroke:.3px #2f2535;">Airlines</div>
<div class="t" id="b2" style="left:81.4px;top:1500.1px;font-family:'Liberation Sans',sans-serif;font-size:15.7px;letter-spacing:-0.38px;color:#2f2535;-webkit-text-stroke:.3px #2f2535;">Travel</div>
<div class="t" id="b3" style="left:596.0px;top:1339.2px;font-family:'Liberation Sans',sans-serif;font-size:15.7px;letter-spacing:-0.37px;color:#2f2535;-webkit-text-stroke:.3px #2f2535;">Finance</div>
<div class="t" id="b4" style="left:596.0px;top:1440.0px;font-family:'Liberation Sans',sans-serif;font-size:15.7px;letter-spacing:-0.28px;color:#2f2535;-webkit-text-stroke:.3px #2f2535;">Retail</div>
<div class="t" id="b5" style="left:596.0px;top:1541.7px;font-family:'Liberation Sans',sans-serif;font-size:15.7px;letter-spacing:-0.47px;color:#2f2535;-webkit-text-stroke:.3px #2f2535;">Fashion</div>
<div class="t" id="l5" style="left:210.6px;top:1607.0px;font-family:'Liberation Sans',sans-serif;font-size:15.7px;letter-spacing:-0.12px;color:#2f2535;-webkit-text-stroke:.3px #2f2535;">All Sectors Average</div>
<div class="t" id="d00" style="left:510.0px;top:1772.2px;font-family:'Liberation Sans',sans-serif;font-size:15.5px;letter-spacing:0.24px;color:#fff;-webkit-text-stroke:.25px #fff;">of consumers believe</div>
<div class="t" id="d01" style="left:510.0px;top:1793.2px;font-family:'Liberation Sans',sans-serif;font-size:15.5px;letter-spacing:0.27px;color:#fff;-webkit-text-stroke:.25px #fff;">personally appropriate</div>
<div class="t" id="d02" style="left:510.0px;top:1814.2px;font-family:'Liberation Sans',sans-serif;font-size:15.5px;letter-spacing:0.49px;color:#fff;-webkit-text-stroke:.25px #fff;">content from brands</div>
<div class="t" id="d03" style="left:510.0px;top:1835.2px;font-family:'Liberation Sans',sans-serif;font-size:15.5px;letter-spacing:0.22px;color:#fff;-webkit-text-stroke:.25px #fff;">enhances their</div>
<div class="t" id="d04" style="left:510.0px;top:1856.2px;font-family:'Liberation Sans',sans-serif;font-size:15.5px;letter-spacing:0.28px;color:#fff;-webkit-text-stroke:.25px #fff;">purchase intent.</div>
<div class="t" id="d10" style="left:101.5px;top:2196.4px;font-family:'Liberation Sans',sans-serif;font-size:15.7px;letter-spacing:0.21px;color:#2f2535;-webkit-text-stroke:.3px #2f2535;">of online visitors</div>
<div class="t" id="d11" style="left:115.2px;top:2217.4px;font-family:'Liberation Sans',sans-serif;font-size:15.7px;letter-spacing:0.05px;color:#2f2535;-webkit-text-stroke:.3px #2f2535;">enjoy seeing</div>
<div class="t" id="d12" style="left:104.0px;top:2238.4px;font-family:'Liberation Sans',sans-serif;font-size:15.7px;letter-spacing:0.13px;color:#2f2535;-webkit-text-stroke:.3px #2f2535;">retargeting ads.</div>
<div class="t" id="d20" style="left:322.0px;top:2196.4px;font-family:'Liberation Sans',sans-serif;font-size:15.7px;letter-spacing:0.44px;color:#2f2535;-webkit-text-stroke:.3px #2f2535;">of customers will</div>
<div class="t" id="d21" style="left:310.5px;top:2217.4px;font-family:'Liberation Sans',sans-serif;font-size:15.7px;letter-spacing:0.34px;color:#2f2535;-webkit-text-stroke:.3px #2f2535;">return to complete a</div>
<div class="t" id="d22" style="left:321.5px;top:2238.4px;font-family:'Liberation Sans',sans-serif;font-size:15.7px;letter-spacing:0.36px;color:#2f2535;-webkit-text-stroke:.3px #2f2535;">purchase without</div>
<div class="t" id="d23" style="left:342.5px;top:2259.4px;font-family:'Liberation Sans',sans-serif;font-size:15.7px;letter-spacing:0.24px;color:#2f2535;-webkit-text-stroke:.3px #2f2535;">retargeting.</div>
<div class="t" id="d30" style="left:566.5px;top:2196.4px;font-family:'Liberation Sans',sans-serif;font-size:15.7px;letter-spacing:0.20px;color:#2f2535;-webkit-text-stroke:.3px #2f2535;">of shoppers</div>
<div class="t" id="d31" style="left:542.0px;top:2217.4px;font-family:'Liberation Sans',sans-serif;font-size:15.7px;letter-spacing:0.44px;color:#2f2535;-webkit-text-stroke:.3px #2f2535;">convert during the</div>
<div class="t" id="d32" style="left:556.5px;top:2238.4px;font-family:'Liberation Sans',sans-serif;font-size:15.7px;letter-spacing:0.22px;color:#2f2535;-webkit-text-stroke:.3px #2f2535;">first visit to the</div>
<div class="t" id="d33" style="left:564.0px;top:2259.4px;font-family:'Liberation Sans',sans-serif;font-size:15.7px;letter-spacing:0.29px;color:#2f2535;-webkit-text-stroke:.3px #2f2535;">online store.</div>
<div class="t" id="rb" style="left:167.0px;top:705.5px;font-family:'Liberation Serif',serif;font-weight:bold;font-size:45.5px;transform:scaleX(1.124);transform-origin:0 50%;-webkit-text-stroke:1.4px currentColor;">Remarketing Basics</div>
<div class="t" id="v1" style="left:630.0px;top:942.5px;font-family:'Liberation Serif',serif;font-weight:bold;font-size:22.3px;transform:scaleX(1.128);transform-origin:0 50%;-webkit-text-stroke:0.5px currentColor;">85.65%</div>
<div class="t" id="v2" style="left:630.0px;top:1001.2px;font-family:'Liberation Serif',serif;font-weight:bold;font-size:22.3px;transform:scaleX(1.128);transform-origin:0 50%;-webkit-text-stroke:0.5px currentColor;">80.74%</div>
<div class="t" id="v3" style="left:630.0px;top:1060.7px;font-family:'Liberation Serif',serif;font-weight:bold;font-size:22.3px;transform:scaleX(1.128);transform-origin:0 50%;-webkit-text-stroke:0.5px currentColor;">73.07%</div>
<div class="t" id="v4" style="left:607.0px;top:1133.5px;font-family:'Liberation Serif',serif;font-weight:bold;font-size:30.5px;transform:scaleX(1.072);transform-origin:0 50%;-webkit-text-stroke:0.5px currentColor;">77.24%</div>
<div class="t" id="a1" style="left:81.4px;top:1325.3px;font-family:'Liberation Serif',serif;font-weight:bold;font-size:22.3px;transform:scaleX(1.141);transform-origin:0 50%;-webkit-text-stroke:0.5px currentColor;">87.87%</div>
<div class="t" id="a2" style="left:81.4px;top:1465.2px;font-family:'Liberation Serif',serif;font-weight:bold;font-size:22.3px;transform:scaleX(1.141);transform-origin:0 50%;-webkit-text-stroke:0.5px currentColor;">81.31%</div>
<div class="t" id="a3" style="left:596.0px;top:1308.3px;font-family:'Liberation Serif',serif;font-weight:bold;font-size:22.3px;transform:scaleX(1.130);transform-origin:0 50%;-webkit-text-stroke:0.5px currentColor;">77.97%</div>
<div class="t" id="a4" style="left:596.0px;top:1405.2px;font-family:'Liberation Serif',serif;font-weight:bold;font-size:22.3px;transform:scaleX(1.130);transform-origin:0 50%;-webkit-text-stroke:0.5px currentColor;">74.58%</div>
<div class="t" id="a5" style="left:596.0px;top:1505.5px;font-family:'Liberation Serif',serif;font-weight:bold;font-size:22.3px;transform:scaleX(1.130);transform-origin:0 50%;-webkit-text-stroke:0.5px currentColor;">74.13%</div>
<div class="t" id="v5" style="left:453.4px;top:1599.0px;font-family:'Liberation Serif',serif;font-weight:bold;font-size:30.3px;transform:scaleX(1.085);transform-origin:0 50%;-webkit-text-stroke:0.5px currentColor;">79.17%</div>
<div class="t" id="v6" style="left:510.0px;top:1723.7px;font-family:'Liberation Serif',serif;font-weight:bold;font-size:35.6px;transform:scaleX(1.162);transform-origin:0 50%;color:#ecc113;-webkit-text-stroke:0.5px currentColor;">78%</div>
<div class="t" id="c1" style="left:130.0px;top:2159.5px;font-family:'Liberation Serif',serif;font-weight:bold;font-size:24.5px;transform:scaleX(1.274);transform-origin:0 50%;-webkit-text-stroke:0.5px currentColor;">25%</div>
<div class="t" id="c2" style="left:361.8px;top:2159.5px;font-family:'Liberation Serif',serif;font-weight:bold;font-size:24.5px;transform:scaleX(1.282);transform-origin:0 50%;-webkit-text-stroke:0.5px currentColor;">8%</div>
<div class="t" id="c3" style="left:588.0px;top:2159.5px;font-family:'Liberation Serif',serif;font-weight:bold;font-size:24.5px;transform:scaleX(1.236);transform-origin:0 50%;-webkit-text-stroke:0.5px currentColor;">2%</div>
</body>
</html>
